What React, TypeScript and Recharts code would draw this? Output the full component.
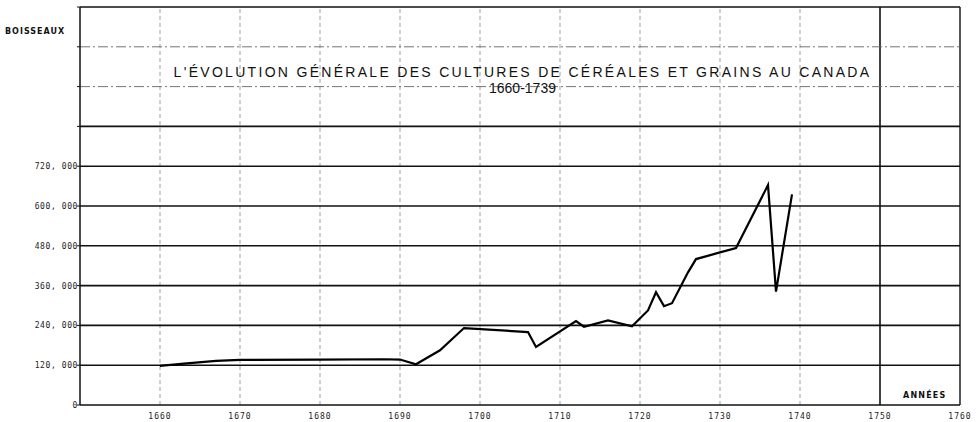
import React from 'react';
import { LineChart, Line, XAxis, YAxis, ReferenceLine } from 'recharts';

// Récoltes de céréales et grains (boisseaux), Canada 1660-1739
const years = [1660, 1663, 1667, 1670, 1680, 1688, 1690, 1692, 1695, 1698, 1706, 1707, 1712, 1713, 1716, 1719, 1721, 1722, 1723, 1724, 1726, 1727, 1730, 1732, 1736, 1737, 1739];
const bushels = [118000, 125000, 133000, 136000, 137000, 138000, 137000, 123000, 165000, 232000, 220000, 175000, 253000, 236000, 255000, 237000, 285000, 340000, 298000, 307000, 400000, 440000, 460000, 473000, 663000, 342000, 635000];

const yTicks = [0, 120000, 240000, 360000, 480000, 600000, 720000, 840000, 960000, 1080000, 1200000];
const yLabelled = [0, 120000, 240000, 360000, 480000, 600000, 720000];
const xTicks = [1660, 1670, 1680, 1690, 1700, 1710, 1720, 1730, 1740, 1750, 1760];
const heavyRows = [120000, 240000, 360000, 480000, 600000, 720000, 840000];
const lightRows = [960000, 1080000];
const lightCols = [1660, 1670, 1680, 1690, 1700, 1710, 1720, 1730, 1740];

const data = years.map((year, i) => ({ year, value: bushels[i] }));

const mono = '"DejaVu Sans Mono", monospace';

const fmt = (v: number) => {
    const s = String(v);
    if (v === 0) return '0';
    return `${s.slice(0, s.length - 3)}, ${s.slice(-3)}`;
};

const YTick = (props: any) => {
    const { x, y, payload } = props;
    if (!yLabelled.includes(payload.value)) return null;
    return (
        <text x={x + 3} y={y + 3} textAnchor="end" fontSize={8} fontFamily={mono} fill="#222" letterSpacing={0.6}>
            {fmt(payload.value)}
        </text>
    );
};

const XTick = (props: any) => {
    const { x, y, payload } = props;
    return (
        <text x={x} y={y + 6} textAnchor="middle" fontSize={8} fontFamily={mono} fill="#222" letterSpacing={1}>
            {payload.value}
        </text>
    );
};

export default function App() {
    return (
        <div style={{ position: 'absolute', left: 0, top: 0, width: 980, height: 422, background: '#fff' }}>
            <LineChart width={980} height={422} data={data} margin={{ top: 7, right: 20, left: 0, bottom: 0 }}>
                <XAxis
                    dataKey="year"
                    type="number"
                    domain={[1650, 1760]}
                    ticks={xTicks}
                    height={17}
                    axisLine={{ stroke: '#111', strokeWidth: 1.5 }}
                    tickLine={false}
                    tick={<XTick />}
                    interval={0}
                />
                <YAxis
                    type="number"
                    domain={[0, 1200000]}
                    ticks={yTicks}
                    width={80}
                    axisLine={{ stroke: '#111', strokeWidth: 1.5 }}
                    tickLine={{ stroke: '#111' }}
                    tickSize={3}
                    tick={<YTick />}
                    interval={0}
                />
                {lightCols.map(c => (
                    <ReferenceLine key={`c${c}`} x={c} stroke="#888" strokeWidth={0.8} strokeDasharray="4 3" />
                ))}
                <ReferenceLine x={1750} stroke="#111" strokeWidth={1.6} />
                <ReferenceLine x={1760} stroke="#111" strokeWidth={1.4} />
                {heavyRows.map(r => (
                    <ReferenceLine key={`r${r}`} y={r} stroke="#111" strokeWidth={1.6} />
                ))}
                {lightRows.map(r => (
                    <ReferenceLine key={`l${r}`} y={r} stroke="#666" strokeWidth={0.9} strokeDasharray="10 3 2 3" />
                ))}
                <ReferenceLine y={1200000} stroke="#111" strokeWidth={1.4} />
                <Line
                    type="linear"
                    dataKey="value"
                    stroke="#000"
                    strokeWidth={2.2}
                    dot={false}
                    isAnimationActive={false}
                />
            </LineChart>
            <div style={{ position: 'absolute', left: 5, top: 27, fontFamily: '"DejaVu Sans", sans-serif', fontSize: 8, fontWeight: 'bold', letterSpacing: 1, color: '#111' }}>
                BOISSEAUX
            </div>
            <div style={{ position: 'absolute', left: 80, width: 885, top: 64, textAlign: 'center', fontFamily: '"Liberation Sans", sans-serif', fontSize: 14, letterSpacing: 2.3, color: '#111', lineHeight: '16px' }}>
                L'ÉVOLUTION GÉNÉRALE DES CULTURES DE CÉRÉALES ET GRAINS AU CANADA
            </div>
            <div style={{ position: 'absolute', left: 80, width: 885, top: 80, textAlign: 'center', fontFamily: '"Liberation Sans Narrow", "Liberation Sans", sans-serif', fontSize: 14, color: '#111', lineHeight: '16px' }}>
                1660-1739
            </div>
            <div style={{ position: 'absolute', left: 903, top: 391, fontFamily: '"DejaVu Sans", sans-serif', fontSize: 8, fontWeight: 'bold', letterSpacing: 1.2, color: '#111' }}>
                ANNÉES
            </div>
        </div>
    );
}
